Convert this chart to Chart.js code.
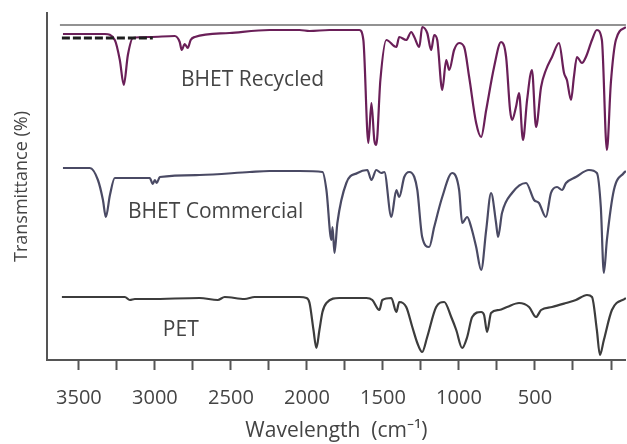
<!DOCTYPE html>
<html>
<head>
<meta charset="utf-8">
<title>FTIR spectra</title>
<script src="https://cdn.jsdelivr.net/npm/chart.js@4.4.0/dist/chart.umd.min.js"></script>
<style>
    body { margin: 0; background: #fff; }
    #wrap { width: 627px; height: 444px; }
</style>
</head>
<body>
<div id="wrap"><canvas id="ftir-chart" width="627" height="444"></canvas></div>
<script>
    "use strict";

    // Wavenumbers (cm-1) and offset transmittance
    var recycledWn = [3605, 3329, 3264, 3231, 3205, 3178, 3145, 3034, 2870, 2837, 2824, 2804, 2784, 2765, 2738, 2509, 2246, 2049, 1983, 1852, 1655, 1629, 1596, 1576, 1557, 1544, 1517, 1478, 1412, 1393, 1347, 1314, 1294, 1261, 1242, 1209, 1183, 1163, 1143, 1110, 1084, 1064, 1032, 999, 966, 933, 887, 854, 821, 769, 723, 690, 664, 651, 625, 605, 579, 552, 520, 493, 460, 428, 388, 342, 309, 290, 263, 244, 224, 191, 165, 125, 93, 60, 27, 1, -32, -98];
    var recycledT = [326, 326, 320, 300, 275, 305, 322, 323, 324, 318, 310, 316, 312, 320, 323, 327, 330, 330, 329, 330, 330, 320, 217, 257, 220, 215, 280, 320, 313, 323, 320, 328, 323, 313, 333, 327, 310, 325, 320, 270, 300, 290, 310, 317, 313, 283, 237, 223, 250, 293, 318, 303, 250, 240, 253, 267, 220, 260, 290, 233, 273, 290, 303, 317, 287, 280, 260, 283, 303, 297, 303, 320, 330, 320, 210, 277, 320, 333];

    var commercialWn = [3605, 3428, 3375, 3342, 3323, 3296, 3264, 3034, 3014, 3001, 2988, 2968, 2706, 2377, 2246, 2049, 1898, 1872, 1839, 1832, 1819, 1800, 1741, 1668, 1603, 1576, 1544, 1511, 1491, 1445, 1412, 1393, 1360, 1327, 1294, 1274, 1242, 1196, 1163, 1110, 1045, 999, 979, 946, 920, 887, 854, 821, 789, 756, 743, 717, 651, 559, 506, 474, 428, 395, 355, 322, 296, 231, 145, 93, 67, 47, 27, -19, -84, -98];
    var commercialT = [192, 192, 180, 160, 143, 165, 182, 182, 176, 180, 177, 183, 185, 188, 189, 189, 188, 170, 120, 133, 107, 137, 177, 187, 190, 180, 190, 187, 188, 143, 170, 163, 183, 188, 183, 170, 123, 113, 133, 163, 187, 170, 137, 143, 133, 113, 90, 130, 167, 137, 123, 147, 167, 177, 160, 157, 143, 167, 173, 170, 177, 183, 190, 187, 153, 87, 120, 170, 187, 189];

    var petWn = [3612, 3198, 3165, 3132, 3034, 2706, 2587, 2541, 2410, 2344, 2049, 2003, 1983, 1957, 1938, 1918, 1898, 1872, 1787, 1609, 1570, 1524, 1504, 1445, 1412, 1393, 1347, 1307, 1274, 1242, 1209, 1150, 1097, 1051, 1018, 979, 946, 913, 854, 835, 815, 789, 736, 684, 605, 539, 493, 460, 388, 296, 231, 158, 125, 93, 73, 47, -6, -98];
    var petT = [63, 63, 60, 61, 61, 62, 60, 63, 61, 63, 63, 62, 57, 30, 12, 30, 48, 57, 62, 62, 60, 50, 60, 62, 48, 58, 53, 33, 17, 8, 23, 53, 58, 43, 30, 12, 23, 43, 48, 45, 28, 47, 50, 53, 57, 53, 43, 50, 53, 57, 60, 65, 63, 30, 5, 20, 50, 62];

    // Reference line at the top and the cut-off legend swatch
    var topLineWn = [3625, -98];
    var topLineT = [335, 335];
    var legendWn = [3612, 3014];
    var legendT = [322, 322];

    // Axis ticks
    var tickValues = [3500, 3250, 3000, 2750, 2500, 2250, 2000, 1750, 1500, 1250, 1000, 750, 500, 250, 0];
    var tickLabels = ["3500", "3000", "2500", "2000", "1500", "1000", "500"];

    // Spectrum names written inside the plot
    var seriesNames = ["BHET Recycled", "BHET Commercial", "PET"];
    var nameWn = [2358, 2601, 2830];
    var nameT = [280, 148, 30];

    function toPoints(xs, ys) {
        return xs.map(function (x, i) {
            return { x: x, y: ys[i] };
        });
    }

    // Draw the series names at data positions
    var nameLabels = {
        id: "nameLabels",
        afterDatasetsDraw: function (chart) {
            var ctx = chart.ctx;
            var xs = chart.scales.x;
            var ys = chart.scales.y;
            ctx.save();
            ctx.font = "21px 'Open Sans'";
            ctx.fillStyle = "#444";
            ctx.textAlign = "center";
            ctx.textBaseline = "middle";
            seriesNames.forEach(function (name, i) {
                ctx.fillText(name, xs.getPixelForValue(nameWn[i]), ys.getPixelForValue(nameT[i]));
            });
            ctx.restore();
        },
    };

    var ctx1 = document.getElementById("ftir-chart").getContext("2d");
    var myChart1 = new Chart(ctx1, {
        type: "line",
        data: {
            datasets: [
                {
                    label: "top",
                    data: toPoints(topLineWn, topLineT),
                    borderColor: "#6e6e6e",
                    borderWidth: 1.5,
                },
                {
                    label: "legend",
                    data: toPoints(legendWn, legendT),
                    borderColor: "#1e1e1e",
                    borderWidth: 3,
                    borderDash: [8, 3],
                },
                {
                    label: seriesNames[0],
                    data: toPoints(recycledWn, recycledT),
                    borderColor: "#6a1f58",
                    borderWidth: 2.2,
                },
                {
                    label: seriesNames[1],
                    data: toPoints(commercialWn, commercialT),
                    borderColor: "#4a4a64",
                    borderWidth: 2.2,
                },
                {
                    label: seriesNames[2],
                    data: toPoints(petWn, petT),
                    borderColor: "#3c3c3c",
                    borderWidth: 2.2,
                },
            ],
        },
        options: {
            responsive: false,
            animation: false,
            events: [],
            layout: { padding: { top: 13, right: 0, left: 0, bottom: 0 } },
            elements: {
                point: { radius: 0 },
                line: { cubicInterpolationMode: "monotone", fill: false },
            },
            plugins: {
                legend: { display: false },
                tooltip: { enabled: false },
            },
            scales: {
                x: {
                    type: "linear",
                    reverse: true,
                    min: -98,
                    max: 3710,
                    afterBuildTicks: function (scale) {
                        scale.ticks = tickValues.map(function (v) {
                            return { value: v };
                        });
                    },
                    afterFit: function (scale) {
                        scale.height = 84;
                    },
                    border: { color: "#555", width: 2 },
                    grid: {
                        drawOnChartArea: false,
                        drawTicks: true,
                        tickLength: 10,
                        tickColor: "#555",
                        tickWidth: 2,
                    },
                    ticks: {
                        autoSkip: false,
                        maxRotation: 0,
                        padding: 16,
                        color: "#444",
                        font: { family: "'Open Sans'", size: 20 },
                        callback: function (value) {
                            var s = String(value);
                            return tickLabels.indexOf(s) >= 0 ? s : "";
                        },
                    },
                    title: {
                        display: true,
                        text: "Wavelength  (cm\u207B\u00B9)",
                        color: "#444",
                        font: { family: "'Open Sans'", size: 21 },
                        padding: { top: 0, bottom: 0 },
                    },
                },
                y: {
                    min: 0,
                    max: 347,
                    afterFit: function (scale) {
                        scale.width = 47;
                    },
                    border: { color: "#555", width: 2 },
                    grid: { display: false, drawTicks: false },
                    ticks: { display: false },
                    title: {
                        display: true,
                        text: "Transmittance (%)",
                        color: "#444",
                        font: { family: "'Open Sans'", size: 18 },
                        padding: { top: 11, bottom: 0 },
                    },
                },
            },
        },
        plugins: [nameLabels],
    });
</script>
</body>
</html>
